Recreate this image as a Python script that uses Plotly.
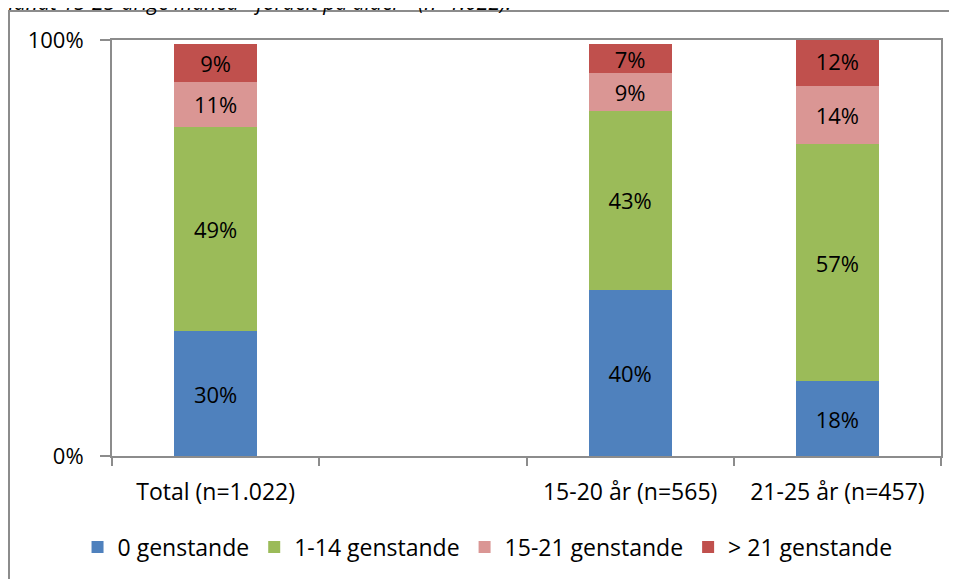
import plotly.graph_objects as go

categories = ["Total (n=1.022)", " ", "15-20 år (n=565)", "21-25 år (n=457)"]
series_names = ["0 genstande", "1-14 genstande", "15-21 genstande", "> 21 genstande"]
colors = ["#4F81BD", "#9BBB59", "#DA9694", "#C0504D"]

# percent per category (blank slot has no data)
vals_0 = [30, None, 40, 18]
vals_1_14 = [49, None, 43, 57]
vals_15_21 = [11, None, 9, 14]
vals_21 = [9, None, 7, 12]

title_text = "Blandt 15-25-årige måned - fordelt på alder - (n=1.022)."
FONT = "Open Sans"

fig = go.Figure()
for name, vals, col in zip(series_names, [vals_0, vals_1_14, vals_15_21, vals_21], colors):
    fig.add_trace(go.Bar(
        x=categories,
        y=[v / 100 if v is not None else None for v in vals],
        name=name,
        marker=dict(color=col, line=dict(width=0)),
        text=[f"{v}%" if v is not None else "" for v in vals],
        textposition="inside",
        insidetextanchor="middle",
        constraintext="none",
        textangle=0,
        textfont=dict(family=FONT, size=22, color="black"),
        hoverinfo="skip",
    ))

# figure sized a bit under the window so the plot area lands where the original sits
fig.update_layout(
    barmode="stack",
    bargap=0.6,
    width=949,
    height=571,
    margin=dict(l=104, r=16, t=32, b=122),
    paper_bgcolor="white",
    plot_bgcolor="white",
    font=dict(family=FONT, size=22, color="black"),
    uniformtext=dict(mode="show", minsize=22),
    legend=dict(
        orientation="h",
        x=0.453, xanchor="center",
        y=-0.216, yanchor="middle",
        font=dict(family=FONT, size=23),
        traceorder="normal",
    ),
    showlegend=True,
)

fig.update_yaxes(
    range=[0, 1],
    tickvals=[0, 1],
    ticktext=["0%", "100%"],
    ticks="outside",
    ticklen=10,
    tickcolor="#8c8c8c",
    tickwidth=2,
    ticklabelstandoff=12,
    tickfont=dict(size=22),
    showline=True,
    linecolor="#8c8c8c",
    linewidth=2,
    mirror=True,
    showgrid=False,
    zeroline=False,
)
fig.update_xaxes(
    type="category",
    categoryorder="array",
    categoryarray=categories,
    tickson="boundaries",
    ticks="outside",
    ticklen=8,
    tickcolor="#8c8c8c",
    tickwidth=2,
    tickfont=dict(size=23),
    showline=True,
    linecolor="#8c8c8c",
    linewidth=2,
    mirror=True,
    showgrid=False,
    ticklabelstandoff=14,
)

# outer chart-area frame
fig.add_shape(
    type="rect", xref="paper", yref="paper",
    x0=(9 - 112) / 829, x1=(975 - 112) / 829,
    y0=(457 - 600) / 417, y1=(457 - 11) / 417,
    line=dict(color="#8c8c8c", width=2),
    fillcolor="rgba(0,0,0,0)",
    layer="below",
)

# title, cut off at the top edge
fig.add_annotation(
    text=f"<i>{title_text}</i>",
    xref="paper", yref="paper",
    x=(-6 - 112) / 829, y=(457 - 18) / 417,
    xanchor="left", yanchor="bottom",
    showarrow=False,
    font=dict(family=FONT, size=21, color="black"),
)

fig.write_html("out.html")
